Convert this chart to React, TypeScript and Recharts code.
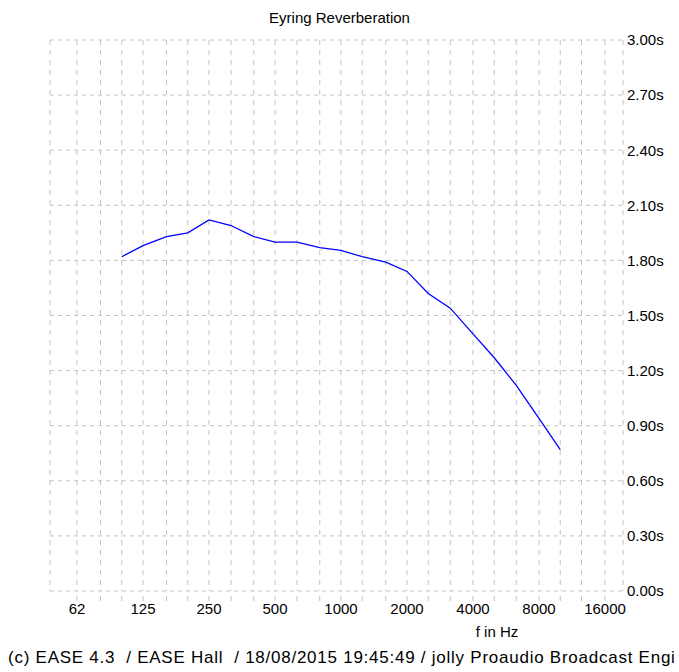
import React from 'react';
import { LineChart, Line, XAxis, YAxis, CartesianGrid } from 'recharts';

const title = 'Eyring Reverberation';
const xAxisTitle = 'f in Hz';
const footer = '(c) EASE 4.3  / EASE Hall  / 18/08/2015 19:45:49 / jolly Proaudio Broadcast Engi';

const gridFrequencies = [62.5, 80, 100, 125, 160, 200, 250, 315, 400, 500, 630, 800, 1000, 1250, 1600, 2000, 2500, 3150, 4000, 5000, 6300, 8000, 10000, 12500, 16000];
const octaveLabels = [62.5, 125, 250, 500, 1000, 2000, 4000, 8000, 16000];
const timeTicks = [0, 0.3, 0.6, 0.9, 1.2, 1.5, 1.8, 2.1, 2.4, 2.7, 3.0];

const frequencies = [100, 125, 160, 200, 250, 315, 400, 500, 630, 800, 1000, 1250, 1600, 2000, 2500, 3150, 4000, 5000, 6300, 8000, 10000];
const eyringRT = [1.82, 1.88, 1.93, 1.95, 2.02, 1.99, 1.93, 1.9, 1.9, 1.87, 1.855, 1.82, 1.79, 1.74, 1.62, 1.54, 1.4, 1.27, 1.12, 0.94, 0.77];

const data = frequencies.map((f, i) => ({ f, rt: eyringRT[i] }));

const FONT = '"Liberation Sans", Arial, sans-serif';
const GRID = '#c4c4c4';

export default function App() {
  return (
    <div style={{ position: 'absolute', left: 0, top: 0, width: 679, height: 672, background: '#fff', fontFamily: FONT, overflow: 'hidden' }}>
      <LineChart width={679} height={672} data={data} margin={{ top: 40, right: 6, bottom: 51, left: 50 }}>
        <CartesianGrid stroke={GRID} strokeDasharray="4 4" vertical={false} />
        <CartesianGrid stroke={GRID} strokeDasharray="5 5" horizontal={false} />
        <XAxis
          dataKey="f"
          type="number"
          scale="log"
          domain={[47.07, 19330]}
          allowDataOverflow
          ticks={gridFrequencies}
          interval={0}
          axisLine={false}
          tickSize={10}
          tickLine={{ stroke: GRID, strokeDasharray: '5 5' }}
          tick={{ fontFamily: FONT, fontSize: 15, fill: '#000' }}
          tickFormatter={(v: number) => (octaveLabels.includes(v) ? String(Math.floor(v)) : '')}
          tickMargin={2}
          height={30}
        />
        <YAxis
          orientation="right"
          type="number"
          domain={[0, 3]}
          ticks={timeTicks}
          interval={0}
          axisLine={false}
          tickLine={false}
          tickSize={0}
          tickMargin={4}
          width={50}
          tick={{ fontFamily: FONT, fontSize: 15, fill: '#000' }}
          tickFormatter={(v: number) => v.toFixed(2) + 's'}
        />
        <Line type="linear" dataKey="rt" stroke="#0000ff" strokeWidth={1.3} dot={false} isAnimationActive={false} />
      </LineChart>
      <div style={{ position: 'absolute', left: 0, width: 679, top: 9, textAlign: 'center', fontSize: 15, lineHeight: '17px', color: '#000' }}>{title}</div>
      <div style={{ position: 'absolute', left: 447, width: 100, top: 623, textAlign: 'center', fontSize: 15, lineHeight: '17px', color: '#000' }}>{xAxisTitle}</div>
      <div style={{ position: 'absolute', left: 8, top: 648, fontSize: 17, lineHeight: '20px', letterSpacing: 0.75, whiteSpace: 'pre', color: '#000' }}>{footer}</div>
    </div>
  );
}
